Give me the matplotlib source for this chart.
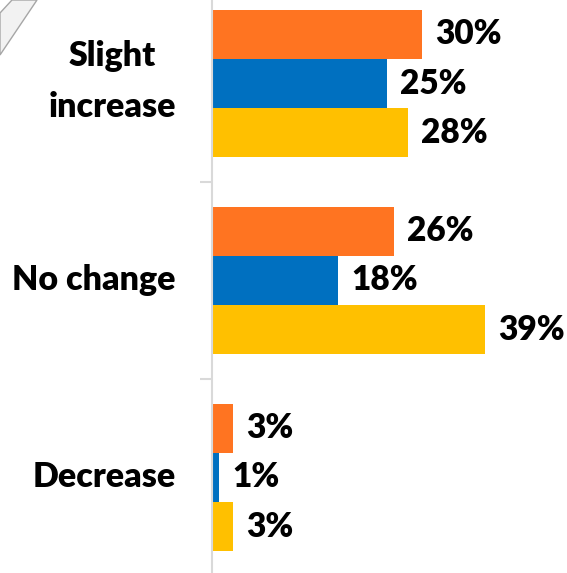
import numpy as np
import matplotlib.pyplot as plt
from matplotlib.patches import Polygon

# ----------------------------------
# データ
categories = ["Slight\nincrease", "No change", "Decrease"]
orange_vals = [30, 26, 3]
blue_vals = [25, 18, 1]
yellow_vals = [28, 39, 3]

# ----------------------------------
# パラメータ
W, H = 567, 573
dpi = 100
colors = ["#FF7421", "#0070C0", "#FFC000"]
bar_h = 0.249
font = ["Lato", "DejaVu Sans"]
weight = "heavy"
px = 72 / dpi  # 1px をポイントに換算

plt.rcParams["font.family"] = font
plt.rcParams["font.weight"] = weight

fig = plt.figure(figsize=(W / dpi, H / dpi), dpi=dpi)
ax = fig.add_axes([212 / W, 0, 1 - 212 / W, 1])

y = np.arange(len(categories))
series = [orange_vals, blue_vals, yellow_vals]
for i, (vals, c) in enumerate(zip(series, colors)):
    ypos = y + (i - 1) * bar_h
    ax.barh(ypos, vals, height=bar_h, color=c, linewidth=0)
    for yy, v in zip(ypos, vals):
        ax.annotate(f"{v}%", (v, yy), xytext=(13 * px, 0), textcoords="offset points",
                    ha="left", va="center", fontsize=24, fontweight=weight,
                    color="black")

# カテゴリ名（最終行のベースラインで揃える）
for yy, cat in zip(y, categories):
    nlines = cat.count("\n") + 1
    off = -10 * px if nlines == 1 else -33.5 * px
    ax.annotate(cat, (0, yy), xycoords=("axes fraction", "data"),
                xytext=(-36 * px, off), textcoords="offset points",
                ha="right", va="baseline", multialignment="center",
                linespacing=1.72, fontsize=24.5, fontweight=weight)

# 軸まわり
for s in ["top", "right", "bottom"]:
    ax.spines[s].set_visible(False)
ax.spines["left"].set_color("#d9d9d9")
ax.spines["left"].set_linewidth(1.5)
ax.set_xticks([])
ax.set_yticks([])
ax.set_yticks([0.5, 1.5], minor=True)
ax.tick_params(axis="y", which="minor", length=12 * px, width=1.5, color="#d9d9d9")

ax.set_xlim(0, (W - 212) / 7.0)
ax.set_ylim(2.485, -0.424)

# 左上の図形の一部
pts = np.array([[0, 13], [12, 0], [37, 0], [0, 55]], dtype=float)
pts[:, 0] /= W
pts[:, 1] = 1 - pts[:, 1] / H
fig.patches.append(Polygon(pts, closed=True, transform=fig.transFigure,
                           facecolor="#f2f2f2", edgecolor="#a6a6a6", linewidth=1))

fig.savefig("out.png", dpi=dpi)
